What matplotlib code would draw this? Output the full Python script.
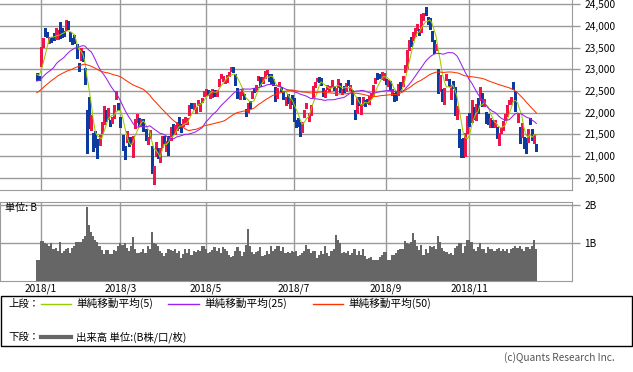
import matplotlib
matplotlib.use('Agg')
import matplotlib.pyplot as plt
from matplotlib.lines import Line2D
from matplotlib.patches import Rectangle
import numpy as np
import pandas as pd

plt.rcParams['font.family'] = ['Noto Sans CJK JP', 'DejaVu Sans']

# closes before the visible window (for the moving averages)
pre_closes = [21256, 21336, 21363, 21449, 21457, 21697, 21805, 21707, 21739, 22008,
              22011, 22011, 22420, 22539, 22548, 22937, 22913, 22868, 22681, 22380,
              22380, 22028, 22351, 22397, 22261, 22417, 22523, 22550, 22495, 22486,
              22597, 22725, 22819, 22707, 22622, 22177, 22498, 22811, 22938, 22866,
              22758, 22694, 22553, 22901, 22868, 22891, 22866, 22902, 22939, 22892, 22911]

# daily candles 2017/12/28 .. 2018/12/18
opens = [22912, 22831,
         23073, 23643, 23949, 23833, 23656, 23720, 23827, 23721, 23788, 24078,
         23874, 23890, 23917, 24116, 23863, 23688, 23741, 23574, 23122, 23277,
         23374, 22967, 22063, 22354, 21721, 21402, 21452, 21270, 21323, 21537,
         21761, 22023, 21895, 21792, 21849, 21947, 22323, 22158, 21901, 21458,
         21146, 21346, 21359, 21403, 21361, 21679, 21881, 21821, 21760, 21772,
         21533, 21377, 21425, 21213, 20540, 21001, 21111, 21036, 21274, 21441,
         21270, 21415, 21427, 21604, 21526, 21627, 21882, 21665, 21742, 21802,
         21765, 21982, 22219, 22145, 22083, 22203, 22155, 22279, 22399, 22459,
         22482, 22431, 22466, 22493, 22464, 22615, 22860, 22810, 22706, 22768,
         22916, 22983, 22982, 22890, 22543, 22359, 22470, 22371, 22074, 22074,
         22231, 22330, 22555, 22520, 22753, 22753, 22747, 22823, 22925, 22857,
         22866, 22776, 22580, 22385, 22621, 22528, 22490, 22185, 22411, 22153,
         22323, 22338, 21823, 21838, 21758, 21579, 21928, 22147, 21909, 21962,
         22386, 22648, 22739, 22803, 22717, 22542, 22407, 22594, 22518, 22599,
         22620, 22412, 22616, 22685, 22474, 22578, 22540, 22752, 22574, 22519,
         22071, 21987, 22347, 22056, 22230, 22231, 22258, 22258, 22382, 22465,
         22736, 22845, 22883, 22863, 22804, 22784, 22695, 22676, 22463, 22455,
         22469, 22425, 22631, 22672, 22995, 23075, 23489, 23706, 23734, 23823,
         23998, 23869, 23892, 24162, 24365, 24192, 24174, 23871, 23666, 23489,
         22957, 22499, 22535, 22301, 22785, 22766, 22400, 22697, 22598, 21988,
         21618, 21398, 21303, 21131, 21588, 21964, 21796, 22115, 21911, 22284,
         22299, 22452, 22188, 21972, 21951, 21704, 21784, 21735, 21659, 21322,
         21554, 21620, 21840, 21980, 22240, 22241, 22644, 22478, 21918, 21676,
         21549, 21440, 21289, 21368, 21847, 21613, 21374, 21216]
highs = [22912, 22853,
         23506, 23730, 23952, 23864, 23734, 23739, 23833, 23962, 23916, 24084,
         23950, 23891, 24130, 24125, 23864, 23731, 23787, 23574, 23155, 23492,
         23425, 23039, 22064, 22354, 21941, 21530, 21584, 21387, 21485, 21783,
         22152, 22073, 22106, 21838, 21892, 22172, 22502, 22227, 21901, 21475,
         21225, 21566, 21437, 21434, 21467, 21860, 21971, 21881, 21859, 21854,
         21620, 21441, 21595, 21229, 20766, 21317, 21183, 21192, 21454, 21471,
         21337, 21470, 21668, 21750, 21716, 21794, 21911, 21733, 21862, 21901,
         21870, 22176, 22225, 22220, 22125, 22293, 22227, 22343, 22501, 22539,
         22522, 22507, 22536, 22521, 22515, 22777, 22882, 22852, 22760, 22868,
         22947, 23051, 23050, 22895, 22580, 22478, 22536, 22432, 22092, 22225,
         22275, 22494, 22574, 22635, 22856, 22820, 22833, 22966, 22985, 22895,
         22889, 22778, 22584, 22568, 22717, 22582, 22490, 22355, 22423, 22307,
         22415, 22339, 21837, 21873, 21777, 21789, 22071, 22233, 21992, 22187,
         22622, 22714, 22810, 22823, 22801, 22568, 22534, 22637, 22626, 22751,
         22620, 22569, 22772, 22685, 22551, 22611, 22676, 22755, 22649, 22533,
         22071, 22365, 22357, 22209, 22361, 22287, 22325, 22373, 22463, 22646,
         22804, 22913, 22892, 22932, 22918, 22786, 22760, 22727, 22542, 22456,
         22497, 22666, 22702, 22851, 23095, 23443, 23672, 23739, 23870, 23960,
         24034, 23929, 24286, 24306, 24448, 24208, 24191, 23880, 23666, 23589,
         23018, 22872, 22542, 22560, 22897, 22788, 22637, 22719, 22598, 22158,
         21627, 21404, 21418, 21536, 21920, 21982, 22282, 22134, 22191, 22336,
         22583, 22455, 22315, 22004, 21965, 21883, 21841, 21839, 21670, 21535,
         21653, 21815, 21974, 22177, 22292, 22351, 22698, 22493, 21965, 21678,
         21755, 21446, 21420, 21622, 21875, 21620, 21506, 21284]
lows = [22760, 22750,
        23065, 23520, 23765, 23742, 23601, 23627, 23685, 23702, 23705, 23733,
        23743, 23760, 23917, 23919, 23657, 23580, 23614, 23250, 22955, 23211,
        23188, 22656, 21078, 21646, 21604, 21119, 21203, 20950, 21257, 21537,
        21736, 21810, 21852, 21682, 21758, 21883, 22314, 22068, 21671, 21130,
        20938, 21314, 21224, 21274, 20978, 21643, 21791, 21695, 21688, 21586,
        21380, 21286, 21425, 20617, 20347, 20997, 20952, 20870, 21209, 21301,
        21117, 21020, 21376, 21506, 21510, 21599, 21643, 21558, 21693, 21737,
        21747, 21952, 22104, 22078, 21987, 22172, 22041, 22240, 22389, 22412,
        22402, 22336, 22355, 22381, 22385, 22610, 22801, 22739, 22675, 22705,
        22849, 22965, 22938, 22629, 22340, 22317, 22397, 22323, 21931, 22014,
        22103, 22330, 22478, 22502, 22747, 22620, 22695, 22807, 22900, 22723,
        22689, 22638, 22264, 22349, 22620, 22502, 22320, 22183, 22222, 22117,
        22207, 21803, 21674, 21683, 21462, 21546, 21900, 22111, 21806, 21947,
        22372, 22588, 22730, 22718, 22642, 22374, 22364, 22546, 22494, 22595,
        22517, 22412, 22599, 22481, 22420, 22485, 22502, 22629, 22515, 22194,
        21851, 21987, 22178, 21978, 22168, 22150, 22214, 22201, 22339, 22400,
        22680, 22787, 22795, 22787, 22765, 22661, 22626, 22525, 22419, 22277,
        22295, 22398, 22528, 22610, 22940, 23040, 23446, 23548, 23677, 23758,
        23901, 23796, 23868, 24130, 24258, 24040, 23929, 23643, 23372, 23442,
        22459, 22495, 22261, 22211, 22744, 22612, 22322, 22566, 21940, 21853,
        21211, 20971, 20972, 20989, 21532, 21687, 21780, 21856, 21833, 21986,
        22297, 22160, 22145, 21761, 21746, 21675, 21666, 21665, 21416, 21243,
        21532, 21606, 21835, 21914, 22207, 22204, 22537, 22036, 21795, 21310,
        21442, 21179, 21062, 21331, 21735, 21358, 21310, 21111]
closes = [22783, 22765,
          23506, 23715, 23850, 23788, 23710, 23654, 23714, 23952, 23868, 23763,
          23808, 23816, 24124, 23940, 23669, 23632, 23629, 23292, 23098, 23486,
          23274, 22682, 21610, 21645, 21891, 21383, 21245, 21154, 21464, 21720,
          22150, 21925, 21970, 21737, 21893, 22153, 22390, 22068, 21725, 21182,
          21042, 21418, 21253, 21368, 21470, 21824, 21969, 21777, 21804, 21677,
          21481, 21381, 21591, 20618, 20767, 21317, 21032, 21160, 21454, 21389,
          21292, 21320, 21645, 21568, 21679, 21795, 21688, 21661, 21779, 21836,
          21848, 22159, 22192, 22163, 22088, 22278, 22215, 22320, 22468, 22508,
          22473, 22467, 22509, 22409, 22497, 22758, 22866, 22818, 22717, 22838,
          22930, 23002, 22961, 22690, 22437, 22451, 22481, 22359, 22018, 22202,
          22171, 22475, 22540, 22626, 22824, 22695, 22804, 22878, 22966, 22738,
          22852, 22680, 22278, 22555, 22693, 22517, 22338, 22342, 22272, 22271,
          22305, 21812, 21786, 21718, 21547, 21788, 22052, 22197, 21932, 22188,
          22597, 22697, 22794, 22765, 22698, 22397, 22510, 22614, 22586, 22713,
          22544, 22554, 22747, 22512, 22525, 22508, 22663, 22645, 22599, 22298,
          21858, 22357, 22205, 22192, 22270, 22200, 22220, 22363, 22411, 22602,
          22799, 22814, 22848, 22870, 22865, 22707, 22697, 22580, 22487, 22307,
          22373, 22665, 22605, 22821, 23095, 23421, 23672, 23675, 23870, 23940,
          24034, 23797, 24120, 24246, 24271, 24110, 23976, 23784, 23470, 23507,
          22591, 22695, 22272, 22549, 22842, 22659, 22532, 22615, 22011, 22092,
          21268, 21185, 21149, 21458, 21920, 21687, 22244, 21898, 22148, 22086,
          22487, 22250, 22270, 21811, 21846, 21804, 21680, 21821, 21584, 21508,
          21647, 21813, 21953, 22177, 22263, 22351, 22575, 22036, 21920, 21501,
          21679, 21220, 21149, 21602, 21816, 21375, 21506, 21115]

# volume (B)
volume = [0.54, 0.54,
          1.06, 1.06, 1.00, 0.97, 0.91, 1.00, 0.83, 0.87, 0.78, 1.04,
          0.74, 0.78, 0.85, 0.86, 0.74, 0.87, 0.91, 1.02, 1.04, 1.04,
          1.10, 1.19, 1.96, 1.48, 1.30, 1.19, 1.09, 1.04, 0.91, 0.81,
          0.70, 0.82, 0.82, 0.70, 0.70, 0.82, 0.80, 0.91, 1.00, 0.96,
          1.00, 0.87, 0.78, 0.91, 1.17, 0.83, 0.74, 0.74, 0.76, 0.83,
          0.74, 0.91, 0.83, 1.28, 1.00, 0.97, 0.91, 0.78, 0.74, 0.65,
          0.74, 0.83, 0.81, 0.78, 0.83, 0.74, 0.78, 0.61, 0.72, 0.83,
          0.74, 0.84, 0.69, 0.78, 0.77, 0.81, 0.78, 0.91, 0.93, 0.83,
          0.74, 0.76, 0.81, 0.89, 0.78, 0.87, 0.74, 0.89, 0.83, 0.78,
          0.69, 0.63, 0.65, 0.78, 0.89, 0.78, 0.65, 0.76, 0.96, 1.37,
          0.91, 0.76, 0.72, 0.76, 0.78, 0.89, 0.65, 0.69, 0.78, 0.72,
          0.91, 0.78, 0.83, 0.91, 0.91, 0.78, 0.89, 0.74, 0.76, 0.74,
          0.78, 0.76, 0.78, 0.67, 0.69, 0.74, 0.78, 0.96, 0.83, 0.74,
          0.78, 0.78, 0.61, 0.69, 0.78, 0.72, 0.93, 0.74, 0.65, 0.78,
          0.83, 1.20, 1.07, 1.00, 0.74, 0.76, 0.74, 0.78, 0.69, 0.74,
          0.83, 0.69, 0.78, 0.69, 0.83, 0.65, 0.58, 0.61, 0.63, 0.54,
          0.54, 0.55, 0.63, 0.69, 0.76, 0.76, 0.55, 0.56, 0.69, 0.69,
          0.74, 0.81, 0.84, 0.84, 1.06, 1.00, 0.98, 1.04, 1.26, 1.09,
          0.91, 0.81, 0.96, 0.69, 0.84, 0.74, 0.93, 0.89, 0.91, 0.83,
          1.19, 1.04, 0.87, 0.78, 0.76, 0.72, 0.74, 0.69, 0.87, 0.91,
          1.00, 1.00, 0.74, 0.91, 1.09, 1.07, 1.04, 0.83, 0.78, 0.89,
          1.00, 0.84, 0.83, 0.74, 0.89, 0.84, 0.83, 0.78, 0.83, 0.87,
          0.78, 0.83, 0.78, 0.83, 0.74, 0.84, 0.87, 0.91, 0.87, 0.93,
          0.83, 0.78, 0.89, 0.89, 0.83, 0.91, 1.09, 0.84]

month_pos = [0, 38, 79, 121, 165, 205]
month_labels = ['2018/1', '2018/3', '2018/5', '2018/7', '2018/9', '2018/11']

RED = '#f0144a'
BLUE = '#0c3a9e'
GRID = '#9a9a9a'

W, H = 633, 372
fig = plt.figure(figsize=(W / 100, H / 100), dpi=100)


def box(x0, y0, x1, y1):
    return [x0 / W, 1 - y1 / H, (x1 - x0) / W, (y1 - y0) / H]


ax = fig.add_axes(box(0, 0, 572, 190))
axv = fig.add_axes(box(0, 202, 572, 281))

x = np.arange(-2, len(closes) - 2)
o = np.array(opens, float)
h = np.array(highs, float)
l = np.array(lows, float)
c = np.array(closes, float)
col = np.where(c >= o, RED, BLUE)

ax.vlines(x, l, h, colors=col, lw=1.0, zorder=3, antialiased=False)
body = np.maximum(np.abs(c - o), 20)
ax.bar(x, body, bottom=np.minimum(o, c), width=0.95, color=col, lw=0, zorder=3,
       antialiased=False)

s = pd.Series(pre_closes + closes, dtype=float)
n0 = len(pre_closes)
ma5 = s.rolling(5).mean().values[n0:]
ma25 = s.rolling(25).mean().values[n0:]
ma50 = s.rolling(50).mean().values[n0:]
ax.plot(x, ma5, color='#99cc00', lw=0.75, zorder=4)
ax.plot(x, ma25, color='#9922ee', lw=0.75, zorder=4)
ax.plot(x, ma50, color='#ff3300', lw=0.75, zorder=4)

xl = (-41 / 2.09, 531 / 2.09)
for a in (ax, axv):
    a.set_xlim(*xl)
    a.set_xticks(month_pos)
    a.grid(True, color=GRID, lw=1.0)
    a.set_axisbelow(True)
    a.yaxis.tick_right()
    a.tick_params(axis='y', length=6, width=1, color=GRID, pad=3, labelsize=7.3)
    a.tick_params(axis='x', length=0, labelsize=7.3, pad=2)
    for sp in a.spines.values():
        sp.set_color(GRID)

ax.set_ylim(20216, 24599)
ax.set_yticks(range(20500, 25000, 500))
ax.set_yticklabels([f'{v:,}' for v in range(20500, 25000, 500)])
ax.set_xticklabels([])
ax.spines['left'].set_visible(False)
ax.spines['top'].set_visible(False)

axv.bar(x, volume, width=1.0, color='#666666', lw=0, zorder=3, antialiased=False)
axv.set_ylim(0, 2.08)
axv.set_yticks([1, 2])
axv.set_yticklabels(['1B', '2B'])
axv.set_xticklabels(month_labels)
fig.text(5 / W, 1 - 208 / H, '単位: B', fontsize=7.3, va='center')

# legend box
fig.add_artist(Rectangle((0.5 / W, 1 - 346 / H), 631.5 / W, 50 / H,
                         transform=fig.transFigure, fill=False, ec='black', lw=1))
y1 = 1 - 303.5 / H
y2 = 1 - 337 / H
fig.text(8 / W, y1, '上段：', fontsize=7.5, va='center')
fig.text(8 / W, y2, '下段：', fontsize=7.5, va='center')
items = [(41, 71, '#99cc00', 76, '単純移動平均(5)'),
         (168, 199, '#9922ee', 204, '単純移動平均(25)'),
         (313, 343, '#ff3300', 348, '単純移動平均(50)')]
for xa, xb, cl, xt, txt in items:
    fig.add_artist(Line2D([xa / W, xb / W], [y1, y1], color=cl, lw=1, transform=fig.transFigure))
    fig.text(xt / W, y1, txt, fontsize=7.7, va='center')
fig.add_artist(Line2D([41 / W, 71 / W], [y2, y2], color='#666666', lw=3, transform=fig.transFigure))
fig.text(76 / W, y2, '出来高 単位:(B株/口/枚)', fontsize=7.5, va='center')

fig.text(615 / W, 1 - 358 / H, '(c)Quants Research Inc.', fontsize=7.3, ha='right',
         va='center', color='#555555')

fig.savefig('out.png', dpi=100)
